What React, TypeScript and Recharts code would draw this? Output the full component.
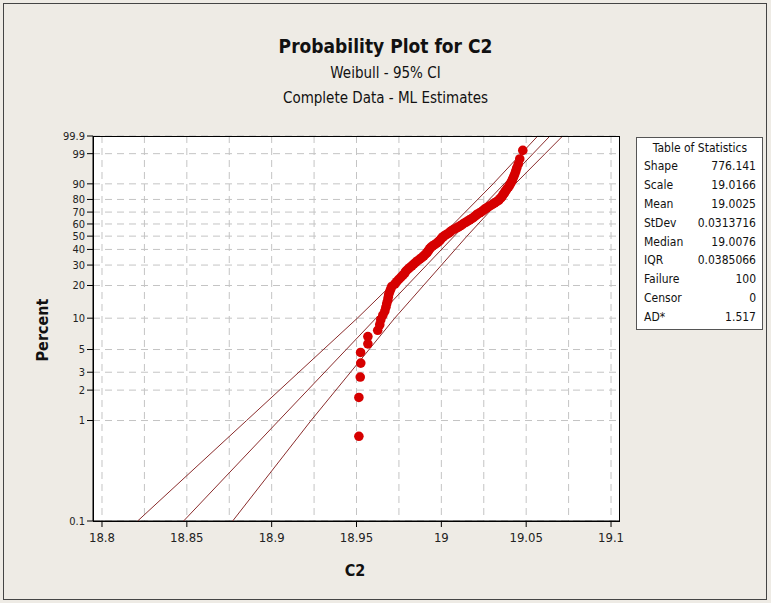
import { CartesianGrid, Scatter, ScatterChart, XAxis, YAxis } from "recharts";

// C2 values (sorted)
const C2_VALUES = [
  18.9514, 18.9514, 18.9522, 18.9525, 18.9524, 18.9567, 18.9567, 18.9625, 18.9637, 18.9643,
  18.9655, 18.9667, 18.9673, 18.9678, 18.9684, 18.9687, 18.969, 18.9696, 18.9702, 18.9708,
  18.9726, 18.9737, 18.9749, 18.9761, 18.9773, 18.9784, 18.979, 18.9802, 18.9814, 18.9826,
  18.9837, 18.9849, 18.9861, 18.9873, 18.9885, 18.9896, 18.9905, 18.9914, 18.992, 18.9926,
  18.9932, 18.9938, 18.9949, 18.9961, 18.9973, 18.9982, 18.9991, 18.9996, 19.0002, 19.0011,
  19.002, 19.0032, 19.0044, 19.0052, 19.0061, 19.0073, 19.0088, 19.01, 19.0111, 19.0123,
  19.0132, 19.0144, 19.0155, 19.0167, 19.0179, 19.0188, 19.0197, 19.0206, 19.0214, 19.0226,
  19.0238, 19.0247, 19.0256, 19.0267, 19.0279, 19.0291, 19.0303, 19.0314, 19.0326, 19.0338,
  19.0344, 19.0353, 19.0359, 19.0364, 19.037, 19.0376, 19.0382, 19.0388, 19.0397, 19.0403,
  19.0409, 19.0415, 19.042, 19.0426, 19.0432, 19.0438, 19.0444, 19.0453, 19.0462, 19.048,
];

// fitted line and 95% CI bounds (percentile -> C2)
const CI_PCT = [0.1, 1, 10, 50, 90, 99.9];
const FIT_X = [18.8481, 18.9042, 18.9615, 19.0076, 19.037, 19.064];
const LOWER_X = [18.821, 18.8852, 18.9505, 19.0001, 19.0305, 19.0568];
const UPPER_X = [18.877, 18.9232, 18.9725, 19.0151, 19.0435, 19.0715];

const PCT_TICKS = [0.1, 1, 2, 3, 5, 10, 20, 30, 40, 50, 60, 70, 80, 90, 99, 99.9];
const X_GRID = [18.8, 18.825, 18.85, 18.875, 18.9, 18.925, 18.95, 18.975, 19, 19.025, 19.05, 19.075, 19.1];
const X_LABELS = ["18.8", "18.85", "18.9", "18.95", "19", "19.05", "19.1"];

const STATS: [string, string][] = [
  ["Shape", "776.141"],
  ["Scale", "19.0166"],
  ["Mean", "19.0025"],
  ["StDev", "0.0313716"],
  ["Median", "19.0076"],
  ["IQR", "0.0385066"],
  ["Failure", "100"],
  ["Censor", "0"],
  ["AD*", "1.517"],
];

const FONT = "'DejaVu Sans Condensed', 'Liberation Sans Narrow', 'DejaVu Sans', sans-serif";

// Weibull probability scale
const weib = (pct: number) => Math.log(-Math.log(1 - pct / 100));

const n = C2_VALUES.length;
const points = C2_VALUES.map((x, i) => ({ x, y: weib(((i + 1 - 0.3) / (n + 0.4)) * 100) }));
const toLine = (xs: number[]) => xs.map((x, i) => ({ x, y: weib(CI_PCT[i]) }));

function pctLabel(v: number) {
  const p = (1 - Math.exp(-Math.exp(v))) * 100;
  let best = PCT_TICKS[0];
  for (const t of PCT_TICKS) if (Math.abs(t - p) < Math.abs(best - p)) best = t;
  return String(best);
}

function XTick({ x, y, payload }: any) {
  const label = X_LABELS.find((l) => Math.abs(parseFloat(l) - payload.value) < 1e-6);
  if (!label) return <g />;
  return (
    <g>
      <line x1={x} x2={x} y1={y} y2={y + 6} stroke="#000" />
      <text x={x} y={y + 21} textAnchor="middle" fontSize={13} fill="#222" fontFamily={FONT}>
        {label}
      </text>
    </g>
  );
}

const noDot = () => <g />;
const redDot = (p: any) => <circle cx={p.cx} cy={p.cy} r={4.8} fill="#D60000" />;

export default function App() {
  return (
    <div
      style={{
        position: "absolute",
        left: 0,
        top: 0,
        width: 771,
        height: 603,
        background: "#EEEBE5",
        fontFamily: FONT,
        color: "#111",
      }}
    >
      <div style={{ position: "absolute", left: 3, top: 3, width: 762, height: 595, border: "1px solid #444" }} />
      <div style={{ position: "absolute", left: 0, width: 771, top: 35, textAlign: "center", fontSize: 19, fontWeight: "bold" }}>
        Probability Plot for C2
      </div>
      <div style={{ position: "absolute", left: 0, width: 771, top: 64, textAlign: "center", fontSize: 15 }}>
        Weibull - 95% CI
      </div>
      <div style={{ position: "absolute", left: 0, width: 771, top: 89, textAlign: "center", fontSize: 15 }}>
        Complete Data - ML Estimates
      </div>

      <ScatterChart width={771} height={603} margin={{ top: 136, right: 152, bottom: 52, left: 33 }} style={{ position: "absolute", left: 0, top: 0 }}>
        <CartesianGrid fill="#fff" stroke="#C4C4C4" strokeDasharray="7 5" horizontalValues={PCT_TICKS.map(weib)} verticalValues={X_GRID} />
        <XAxis
          type="number"
          dataKey="x"
          domain={[18.7947, 19.1047]}
          ticks={X_GRID}
          interval={0}
          tick={<XTick />}
          tickLine={false}
          tickSize={0}
          tickMargin={0}
          height={30}
          axisLine={{ stroke: "#000" }}
          allowDataOverflow
        />
        <YAxis
          type="number"
          dataKey="y"
          domain={[weib(0.1), weib(99.9)]}
          ticks={PCT_TICKS.map(weib)}
          interval={0}
          tickFormatter={pctLabel}
          width={60}
          tickSize={6}
          tickLine={{ stroke: "#000" }}
          axisLine={{ stroke: "#000" }}
          tick={{ fontSize: 11, fill: "#222", fontFamily: FONT }}
          allowDataOverflow
        />
        <Scatter data={toLine(LOWER_X)} line={{ stroke: "#8A2C2C", strokeWidth: 1 }} shape={noDot} isAnimationActive={false} />
        <Scatter data={toLine(FIT_X)} line={{ stroke: "#8A2C2C", strokeWidth: 1 }} shape={noDot} isAnimationActive={false} />
        <Scatter data={toLine(UPPER_X)} line={{ stroke: "#8A2C2C", strokeWidth: 1 }} shape={noDot} isAnimationActive={false} />
        <Scatter data={points} shape={redDot} isAnimationActive={false} />
      </ScatterChart>

      <div style={{ position: "absolute", left: 93, top: 136, width: 525, height: 384, border: "1px solid #000", pointerEvents: "none" }} />

      <div
        style={{
          position: "absolute",
          left: 42,
          top: 330,
          transform: "translate(-50%, -50%) rotate(-90deg)",
          fontSize: 16,
          fontWeight: "bold",
        }}
      >
        Percent
      </div>
      <div style={{ position: "absolute", left: 330, width: 50, top: 561, textAlign: "center", fontSize: 16, fontWeight: "bold" }}>
        C2
      </div>

      <div
        style={{
          position: "absolute",
          left: 636,
          top: 137,
          width: 127,
          height: 193,
          background: "#fff",
          border: "1px solid #555",
          fontSize: 12,
          boxSizing: "border-box",
          padding: "3px 6px 0 7px",
        }}
      >
        <div style={{ textAlign: "center", height: 18 }}>Table of Statistics</div>
        {STATS.map(([k, v]) => (
          <div key={k} style={{ display: "flex", justifyContent: "space-between", height: 18.9 }}>
            <span>{k}</span>
            <span>{v}</span>
          </div>
        ))}
      </div>
    </div>
  );
}
